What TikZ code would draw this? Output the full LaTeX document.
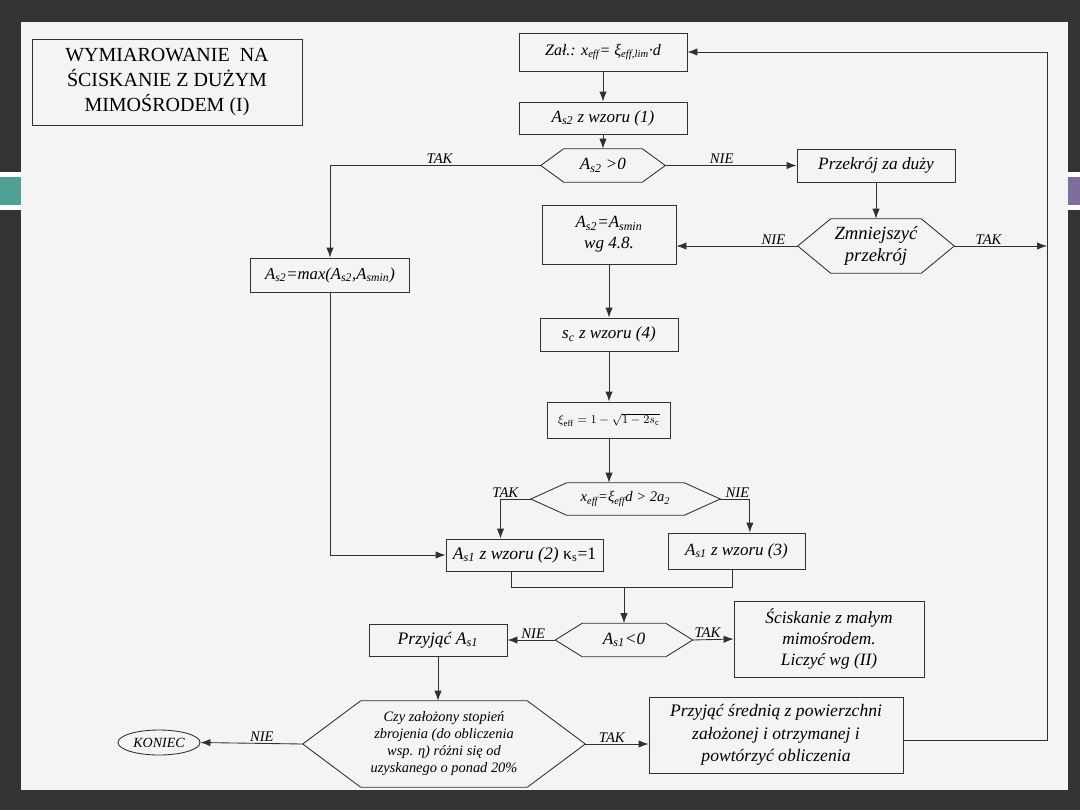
\documentclass[tikz,border=0pt]{standalone}
\usepackage{fontspec}
\setmainfont{Liberation Serif}
\usepackage{tikz}
\usetikzlibrary{shapes.geometric, arrows.meta, positioning, calc}

\definecolor{slidebg}{HTML}{333333}
\definecolor{paper}{HTML}{F4F4F4}
\definecolor{ink}{HTML}{303030}
\definecolor{tealbar}{HTML}{4FA095}
\definecolor{violetbar}{HTML}{7E6E9C}

\newcommand{\idx}[1]{\textsubscript{#1}}
\newcommand{\hexa}[2]{\draw[wire] (#1.west) -- ([xshift=#2]#1.north west) -- ([xshift=-#2]#1.north east) -- (#1.east) -- ([xshift=-#2]#1.south east) -- ([xshift=#2]#1.south west) -- cycle;}

\begin{document}
\begin{tikzpicture}[x=0.75pt, y=-0.75pt, node distance=49.5pt,
    >={Latex[length=7.5pt,width=5.5pt]},
    wire/.style={draw=ink, line width=0.65pt},
    box/.style={draw=ink, line width=0.65pt, rectangle, inner sep=1pt, align=center, font=\fontsize{12.8}{14}\selectfont\itshape},
    dec/.style={rectangle, inner sep=0pt, align=center, font=\fontsize{12.8}{14}\selectfont\itshape},
    lab/.style={font=\fontsize{11}{12}\selectfont\itshape, inner sep=1pt}]

    % slide and scanned page
    \fill [slidebg] (0,0) rectangle (1080,810);
    \fill [white] (0,172) rectangle (21,210);
    \fill [tealbar] (0,177) rectangle (21,205);
    \fill [white] (1068,172) rectangle (1080,210);
    \fill [violetbar] (1068,177) rectangle (1080,205);
    \fill [paper] (21,22) rectangle (1068,790);

    \node (title) [draw=ink, line width=0.65pt, minimum width=202.5pt, minimum height=65pt, align=center, font=\fontsize{15}{18.75}\selectfont] at (167,82.5) {WYMIAROWANIE\ \ NA\\ŚCISKANIE Z DUŻYM\\MIMOŚRODEM (I)};

    \node (zal) [box, font=\fontsize{12}{14}\selectfont\itshape, minimum width=126pt, minimum height=28.5pt] at (603,52) {Zał.: x\idx{eff}= ξ\idx{eff,lim}·d};
    \node (as2) [box, below of=zal, minimum width=126pt, minimum height=24pt] {A\idx{s2} z wzoru (1)};
    \node (dec1) [dec, below of=as2, node distance=35.6pt, minimum width=93pt, minimum height=24.75pt] {A\idx{s2} >0};
    \node (duzy) [box, font=\fontsize{13}{14}\selectfont\itshape, minimum width=118.5pt, minimum height=24.75pt] at (876,165.5) {Przekrój za duży};
    \node (dec2) [dec, font=\fontsize{14}{16.5}\selectfont\itshape, minimum width=117pt, minimum height=40.5pt] at (876,246) {Zmniejszyć\\przekrój};
    \node (asmin) [box, font=\fontsize{12.8}{15.5}\selectfont\itshape, minimum width=100.5pt, minimum height=44.25pt] at (609,234.5) {A\idx{s2}=A\idx{smin}\\wg 4.8.};
    \node (maxb) [box, font=\fontsize{12.5}{14}\selectfont\itshape, minimum width=119pt, minimum height=25.5pt] at (330,275) {A\idx{s2}=max(A\idx{s2},A\idx{smin})};
    \node (sc) [box, minimum width=103.5pt, minimum height=24.75pt] at (609,334.5) {s\idx{c} z wzoru (4)};
    \node (xi) [box, font=\fontsize{9.5}{12}\selectfont, minimum width=92.25pt, minimum height=27pt] at (609,420) {$\xi_{\mathrm{eff}}=1-\sqrt{1-2s_{\mathrm{c}}}$};
    \node (dec3) [dec, font=\fontsize{11}{14}\selectfont\itshape, minimum width=141.75pt, minimum height=24pt] at (625.5,499) {x\idx{eff}=ξ\idx{eff}d > 2a\idx{2}};
    \node (as1a) [box, font=\fontsize{13.2}{14}\selectfont\itshape, minimum width=117.75pt, minimum height=24pt] at (524.5,555) {A\idx{s1} z wzoru (2) {\upshape κ\idx{s}=1}};
    \node (as1b) [box, minimum width=102.75pt, minimum height=27pt] at (736.5,551) {A\idx{s1} z wzoru (3)};
    \coordinate (join) at (624,587);
    \node (dec4) [dec, font=\fontsize{13}{14}\selectfont\itshape, minimum width=102.75pt, minimum height=24.75pt] at (624,640) {A\idx{s1}<0};
    \node (przyjac) [box, font=\fontsize{13.2}{14}\selectfont\itshape, minimum width=103.5pt, minimum height=24pt] at (438,640) {Przyjąć A\idx{s1}};
    \node (scisk) [box, minimum width=142.5pt, minimum height=57pt, font=\fontsize{13}{15.75}\selectfont\itshape] at (829,639) {Ściskanie z małym\\mimośrodem.\\Liczyć wg (II)};
    \node (dec5) [dec, minimum width=211.5pt, minimum height=64.5pt, font=\fontsize{10.8}{12.75}\selectfont\itshape] at (444,744) {Czy założony stopień\\zbrojenia (do obliczenia\\wsp. η) różni się od\\uzyskanego o ponad 20\%};
    \node (srednia) [box, minimum width=190.5pt, minimum height=57pt, font=\fontsize{13.2}{17}\selectfont\itshape] at (776,735) {Przyjąć średnią z powierzchni\\założonej i otrzymanej i\\powtórzyć obliczenia};
    \node (koniec) [draw=ink, line width=0.65pt, ellipse, minimum width=61.5pt, minimum height=18.75pt, inner sep=0pt, font=\fontsize{10.5}{11}\selectfont\itshape] at (159,742.5) {KONIEC};
    \coordinate (loop) at (1047,246);

    \hexa{dec1}{17.25pt}
    \hexa{dec2}{24.75pt}
    \hexa{dec3}{27pt}
    \hexa{dec4}{20.25pt}
    \hexa{dec5}{43.5pt}

    \draw [wire, ->] (zal) -- (as2);
    \draw [wire, ->] (as2) -- (dec1);
    \draw [wire, ->] (dec1.west) -| node [lab, above, pos=0.24] {TAK} (maxb.north);
    \draw [wire, ->] (dec1.east) -- node [lab, above, pos=0.43] {NIE} (duzy.west);
    \draw [wire, ->] (duzy) -- (dec2);
    \draw [wire, ->] (dec2.west) -- node [lab, above, pos=0.2] {NIE} (dec2.west -| asmin.east);
    \draw [wire, ->] (dec2.east) -- node [lab, above, pos=0.37] {TAK} (loop);
    \draw [wire, ->] (asmin) -- (sc);
    \draw [wire, ->] (sc) -- (xi);
    \draw [wire, ->] (xi.south) -- (xi.south |- dec3.north);
    \draw [wire, ->] (dec3.west) -| node [lab, above, pos=0.42] {TAK} ([xshift=-18pt]as1a.north);
    \draw [wire, ->] (dec3.east) -| node [lab, above, pos=0.29] {NIE} ([xshift=10pt]as1b.north);
    \draw [wire, ->] (maxb.south) |- (as1a.west);
    \draw [wire] ([xshift=-10pt]as1a.south) |- (join) -| ([xshift=-3pt]as1b.south);
    \draw [wire, ->] (join) -- (dec4.north);
    \draw [wire, ->] (dec4.west) -- node [lab, above, pos=0.46] {NIE} (przyjac.east);
    \draw [wire, ->] (dec4.east) -- node [lab, above, pos=0.36] {TAK} (scisk.west);
    \draw [wire, ->] (przyjac.south) -- (przyjac.south |- dec5.north);
    \draw [wire, ->] (dec5.east) -- node [lab, above, pos=0.42] {TAK} (dec5.east -| srednia.west);
    \draw [wire, ->] (dec5.west) -- node [lab, above, pos=0.4] {NIE} (koniec.east);
    \draw [wire, ->] ([yshift=-4pt]srednia.east) -| (loop) |- (zal.east);
\end{tikzpicture}
\end{document}
